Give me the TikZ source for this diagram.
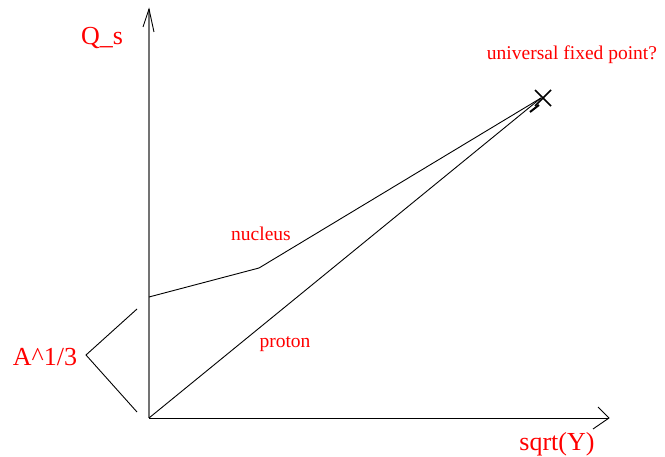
\documentclass[tikz,border=0pt]{standalone}
\usepackage{fontspec}
\setmainfont{Liberation Serif}
\begin{document}
\begin{tikzpicture}[x=1pt,y=-1pt,
  big/.style={text=red,font=\fontsize{26}{30}\selectfont,inner sep=0pt},
  small/.style={text=red,font=\fontsize{19.5}{23}\selectfont,inner sep=0pt},
  ln/.style={draw=black,line width=0.9pt},
  axisy/.style={draw=black!55,line width=1.1pt},
  ]
\useasboundingbox (0,0) rectangle (665,457);
% coordinates
\coordinate (O) at (149,418);
\coordinate (ytip) at (149,9);
\coordinate (ya) at (143,27);
\coordinate (yb) at (154,32);
\coordinate (xtip) at (609,418);
\coordinate (xa) at (598,407);
\coordinate (xb) at (593,429);
\coordinate (n0) at (149,297);
\coordinate (n1) at (259,268);
\coordinate (fp) at (541,98);
\coordinate (br1) at (137,309);
\coordinate (br2) at (86,355);
\coordinate (br3) at (137,412);
% axes
\draw[axisy] (O) -- (ytip);
\draw[ln] (ya) -- (ytip) -- (yb);
\draw[ln] (O) -- (xtip);
\draw[ln] (xa) -- (xtip) -- (xb);
% curves
\draw[ln] (n0) -- (n1) -- (fp);
\draw[ln] (O) -- (fp);
\draw[line width=2pt] (530,112) -- (539,105);
% X mark
\draw[line width=1.6pt] (535,90) -- (551,106);
\draw[line width=1.6pt] (535,106) -- (551,90);
% bracket
\draw[ln] (br1) -- (br2) -- (br3);
% labels
\node[big] (qs) at (102,38) {Q\_s};
\node[big] (a13) at (45,357) {A\^{}1/3};
\node[big] (sy) at (557,444) {sqrt(Y)};
\node[small] (ufp) at (572,55) {universal fixed point?};
\node[small] (nuc) at (261,234) {nucleus};
\node[small] (pro) at (285,344) {proton};
\end{tikzpicture}
\end{document}
